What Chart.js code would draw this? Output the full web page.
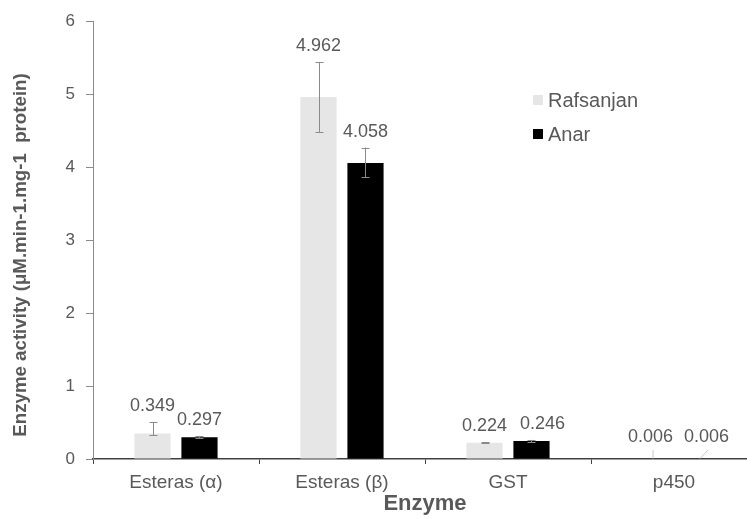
<!DOCTYPE html>
<html>
<head>
<meta charset="utf-8">
<script src="https://cdn.jsdelivr.net/npm/chart.js@4"></script>
<style>
  html, body { margin: 0; padding: 0; background: #fff; overflow: hidden; }
  #wrap { position: absolute; left: 0; top: 0; width: 760px; height: 519px; }
</style>
</head>
<body>
<div id="wrap"><canvas id="chart" width="760" height="519"></canvas></div>
<script>
// values
const categories = ['Esteras (α)', 'Esteras (β)', 'GST', 'p450'];
const rafsanjan = [0.349, 4.962, 0.224, 0.006];
const anar = [0.297, 4.058, 0.246, 0.006];
const rafsanjanErrUp = [0.157, 0.48, 0.005, 0];
const rafsanjanErrDown = [0.023, 0.48, 0.005, 0];
const anarErrUp = [0.012, 0.21, 0.016, 0];
const anarErrDown = [0.012, 0.2, 0.016, 0];
const yMin = 0;
const yMax = 6;
const yStep = 1;

const textColor = '#595959';
const fontFamily = '"Liberation Sans", Arial, sans-serif';

// error bars, drawn over the bars
const errorBars = {
    id: 'errorBars',
    afterDatasetsDraw(chart) {
        const ctx = chart.ctx;
        const y = chart.scales.y;
        ctx.save();
        ctx.strokeStyle = '#8a8a8a';
        ctx.lineWidth = 1;
        chart.data.datasets.forEach((ds, i) => {
            const meta = chart.getDatasetMeta(i);
            meta.data.forEach((bar, j) => {
                const up = ds.errUp[j], down = ds.errDown[j];
                if (!up && !down) return;
                const x = Math.round(bar.x) + 0.5;
                const top = y.getPixelForValue(ds.data[j] + up);
                const bot = y.getPixelForValue(ds.data[j] - down);
                ctx.beginPath();
                ctx.moveTo(x, top); ctx.lineTo(x, bot);
                ctx.moveTo(x - 4, Math.round(top) + 0.5); ctx.lineTo(x + 4, Math.round(top) + 0.5);
                ctx.moveTo(x - 4, Math.round(bot) + 0.5); ctx.lineTo(x + 4, Math.round(bot) + 0.5);
                ctx.stroke();
            });
        });
        ctx.restore();
    }
};

// labels that were dragged sideways in the original (dataset-index: px)
const labelNudge = { '1-2': 11, '1-3': 9 };

// value labels above the error bars, with small leader lines for tiny bars
const valueLabels = {
    id: 'valueLabels',
    afterDatasetsDraw(chart) {
        const ctx = chart.ctx;
        const y = chart.scales.y;
        const zero = y.getPixelForValue(0);
        ctx.save();
        ctx.font = '18px ' + fontFamily;
        ctx.fillStyle = textColor;
        ctx.textAlign = 'center';
        ctx.textBaseline = 'bottom';
        chart.data.datasets.forEach((ds, i) => {
            const meta = chart.getDatasetMeta(i);
            meta.data.forEach((bar, j) => {
                const v = ds.data[j];
                const top = y.getPixelForValue(v + ds.errUp[j]);
                const ly = Math.min(top - 7, zero - 13);
                const lx = bar.x + (labelNudge[i + '-' + j] || 0);
                ctx.fillText(v.toFixed(3), lx, ly);
                if (zero - bar.y < 3) {
                    ctx.strokeStyle = '#c8c8c8';
                    ctx.lineWidth = 1;
                    ctx.beginPath();
                    ctx.moveTo(lx + (i === 1 ? 1 : 2) + 0.5, ly + 4);
                    ctx.lineTo(bar.x + 2.5, bar.y);
                    ctx.stroke();
                }
            });
        });
        ctx.restore();
    }
};

// legend inside the plot, at the right
const insideLegend = {
    id: 'insideLegend',
    afterDraw(chart) {
        const ctx = chart.ctx;
        ctx.save();
        ctx.font = '20px ' + fontFamily;
        ctx.textBaseline = 'middle';
        ctx.textAlign = 'left';
        chart.data.datasets.forEach((ds, i) => {
            const cy = 100 + i * 34;
            ctx.fillStyle = ds.backgroundColor;
            ctx.fillRect(533, cy - 5, 10, 10);
            ctx.fillStyle = textColor;
            ctx.fillText(ds.label, 548, cy + 1);
        });
        ctx.restore();
    }
};

// y axis title, centred the way the reference has it
const yTitle = {
    id: 'yTitle',
    afterDraw(chart) {
        const ctx = chart.ctx;
        ctx.save();
        ctx.translate(21, 255);
        ctx.rotate(-Math.PI / 2);
        ctx.font = 'bold 18.7px ' + fontFamily;
        ctx.fillStyle = textColor;
        ctx.textAlign = 'center';
        ctx.textBaseline = 'middle';
        ctx.fillText('Enzyme activity (μM.min-1.mg-1  protein)', 0, 0);
        ctx.restore();
    }
};

new Chart(document.getElementById('chart'), {
    type: 'bar',
    data: {
        labels: categories,
        datasets: [
            {
                label: 'Rafsanjan',
                data: rafsanjan,
                errUp: rafsanjanErrUp,
                errDown: rafsanjanErrDown,
                backgroundColor: '#e6e6e6',
                categoryPercentage: 0.566,
                barPercentage: 0.77
            },
            {
                label: 'Anar',
                data: anar,
                errUp: anarErrUp,
                errDown: anarErrDown,
                backgroundColor: '#000000',
                categoryPercentage: 0.566,
                barPercentage: 0.77
            }
        ]
    },
    options: {
        responsive: false,
        animation: false,
        layout: { padding: { top: 17, right: 3, left: 0, bottom: 0 } },
        plugins: {
            legend: { display: false },
            tooltip: { enabled: false }
        },
        scales: {
            x: {
                grid: { display: true, drawOnChartArea: false, drawTicks: true, tickLength: 5, color: '#404040', offset: true },
                border: { display: true, color: '#404040', width: 1.5 },
                ticks: { color: textColor, font: { family: fontFamily, size: 19 }, padding: 7, maxRotation: 0 },
                title: { display: true, text: 'Enzyme', color: textColor, font: { family: fontFamily, size: 22, weight: 'bold' }, padding: { top: 0, bottom: 2 } },
                afterFit(scale) { scale.height = 60; }
            },
            y: {
                min: yMin,
                max: yMax,
                grid: { display: true, drawOnChartArea: false, drawTicks: true, tickLength: 7, color: '#8a8a8a' },
                border: { display: true, color: '#8a8a8a' },
                ticks: { stepSize: yStep, color: textColor, font: { family: fontFamily, size: 17 }, padding: 11 },
                afterFit(scale) { scale.width = 93; }
            }
        }
    },
    plugins: [errorBars, valueLabels, insideLegend, yTitle]
});
</script>
</body>
</html>
